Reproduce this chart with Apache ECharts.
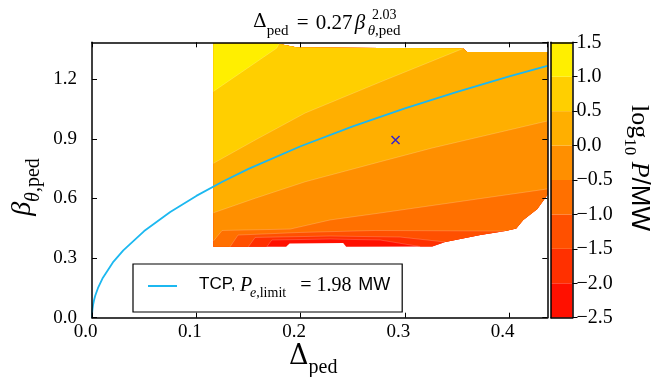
<!DOCTYPE html>
<html><head><meta charset="utf-8">
<script src="https://cdn.jsdelivr.net/npm/echarts@6/dist/echarts.min.js"></script>
<style>html,body{margin:0;padding:0;background:#fff}#c{width:655px;height:377px}</style>
</head><body><div id="c"></div>
<script>
// ---------- data ----------
const xMax = 0.4365, yMax = 1.386;
const levels = [-2.5, -2.0, -1.5, -1.0, -0.5, 0.0, 0.5, 1.0, 1.5];
const bandColors = ['#ff1000','#ff3000','#ff5000','#ff7000','#ff8f00','#ffaf00','#ffcf00','#ffef00'];

// outline of the region where the power was computed
const regionTopX = [0.1164, 0.1775, 0.1966, 0.3559, 0.3597, 0.4365];
const regionTopY = [1.380, 1.380, 1.360, 1.355, 1.337, 1.337];
const regionBottomX = [0.1164, 0.1861, 0.1894, 0.2408, 0.2437, 0.3262, 0.3386, 0.3722, 0.3962, 0.4067, 0.4134, 0.4269, 0.4365];
const regionBottomY = [0.357, 0.357, 0.373, 0.376, 0.357, 0.358, 0.381, 0.416, 0.436, 0.449, 0.492, 0.547, 0.618];

// contour lines (log10 P/MW)
const contourM20X = [0.1676, 0.1724, 0.2283, 0.2763, 0.3146];
const contourM20Y = [0.357, 0.391, 0.396, 0.391, 0.358];
const contourM15X = [0.1499, 0.1564, 0.2283, 0.2954, 0.3386];
const contourM15Y = [0.357, 0.404, 0.411, 0.406, 0.381];
const contourM10X = [0.1324, 0.1400, 0.1995, 0.2715, 0.3962];
const contourM10Y = [0.357, 0.416, 0.429, 0.439, 0.436];
const contourM05X = [0.1164, 0.1247, 0.1899, 0.2283, 0.2763, 0.4365];
const contourM05Y = [0.386, 0.439, 0.446, 0.492, 0.527, 0.648];
const contour00X = [0.1164, 0.1564, 0.2043, 0.2763, 0.3261, 0.4365];
const contour00Y = [0.528, 0.601, 0.684, 0.785, 0.854, 0.990];
const contour05X = [0.1164, 0.1564, 0.2043, 0.2763, 0.3559];
const contour05Y = [0.777, 0.894, 1.030, 1.186, 1.355];
const contour10X = [0.1164, 0.1772, 0.1794];
const contour10Y = [1.139, 1.357, 1.380];

// TCP curve, P_e,limit = 1.98 MW
const tcpDelta = [0, 0.0002, 0.0005, 0.001, 0.002, 0.003, 0.006, 0.01, 0.02, 0.03, 0.05, 0.075, 0.1, 0.125, 0.15, 0.2, 0.25, 0.3, 0.35, 0.4, 0.4365];
const tcpBeta  = [0, 0.029, 0.045, 0.063, 0.089, 0.109, 0.153, 0.197, 0.278, 0.339, 0.436, 0.532, 0.613, 0.684, 0.749, 0.863, 0.963, 1.053, 1.136, 1.214, 1.267];

// operating point
const opDelta = [0.291];
const opBeta = [0.894];

// ---------- build ----------
const contoursX = [contourM20X, contourM15X, contourM10X, contourM05X, contour00X, contour05X, contour10X];
const contoursY = [contourM20Y, contourM15Y, contourM10Y, contourM05Y, contour00Y, contour05Y, contour10Y];
const xLeft = regionTopX[0];

function bandPolygon(k) {
  const pts = [];
  if (k === 0) {
    for (let i = 0; i < regionTopX.length; i++) pts.push([regionTopX[i], regionTopY[i]]);
    for (let i = regionBottomX.length - 1; i >= 0; i--) pts.push([regionBottomX[i], regionBottomY[i]]);
    return pts;
  }
  const bx = contoursX[k - 1], by = contoursY[k - 1];
  const eps = 1e-6;
  if (bx[0] > xLeft + eps) {
    for (let i = 0; i < regionBottomX.length; i++) if (regionBottomX[i] < bx[0]) pts.push([regionBottomX[i], regionBottomY[i]]);
  }
  for (let i = 0; i < bx.length; i++) pts.push([bx[i], by[i]]);
  const lx = bx[bx.length - 1], ly = by[by.length - 1];
  if (lx < xMax - eps && ly < 1.0) {
    for (let i = 0; i < regionBottomX.length; i++) if (regionBottomX[i] > lx) pts.push([regionBottomX[i], regionBottomY[i]]);
    for (let i = regionTopX.length - 1; i >= 0; i--) pts.push([regionTopX[i], regionTopY[i]]);
  } else if (lx < xMax - eps) {
    for (let i = regionTopX.length - 1; i >= 0; i--) if (regionTopX[i] < lx) pts.push([regionTopX[i], regionTopY[i]]);
  } else {
    for (let i = regionTopX.length - 1; i >= 0; i--) pts.push([regionTopX[i], regionTopY[i]]);
  }
  return pts;
}

const serif = "'Liberation Serif', 'DejaVu Serif', serif";
const dserif = "'DejaVu Serif', serif";
const sans = "'Liberation Sans', Arial, sans-serif";
const BLACK = '#000';
const fmt1 = v => v.toFixed(1).replace('-', '\u2212');
const isMult = (v, s) => Math.abs(v / s - Math.round(v / s)) < 1e-6;

const chart = echarts.init(document.getElementById('c'), null, {renderer: 'canvas'});

const axisCommon = {
  type: 'value', z: 5,
  axisLine: {show: true, onZero: false, lineStyle: {color: BLACK, width: 1.5}},
  splitLine: {show: false}
};

chart.setOption({
  animation: false,
  backgroundColor: '#fff',
  grid: [
    {left: 92, top: 42.3, width: 455.3, height: 275.4},
    {left: 551, top: 42.3, width: 21.5, height: 275.4}
  ],
  xAxis: [
    Object.assign({}, axisCommon, {gridIndex: 0, min: 0, max: xMax, interval: 0.1, position: 'bottom',
      axisTick: {inside: true, length: 5, lineStyle: {color: BLACK, width: 1}},
      axisLabel: {color: BLACK, fontFamily: serif, fontSize: 19, margin: 5, padding: [0, 13, 0, 0], showMaxLabel: false,
        formatter: v => isMult(v, 0.1) ? fmt1(v) : ''}}),
    Object.assign({}, axisCommon, {gridIndex: 0, min: 0, max: xMax, interval: 0.1, position: 'top',
      axisTick: {inside: true, length: 5, lineStyle: {color: BLACK, width: 1}}, axisLabel: {show: false}}),
    Object.assign({}, axisCommon, {gridIndex: 1, min: 0, max: 1, position: 'bottom', axisTick: {show: false}, axisLabel: {show: false}}),
    Object.assign({}, axisCommon, {gridIndex: 1, min: 0, max: 1, position: 'top', axisTick: {show: false}, axisLabel: {show: false}})
  ],
  yAxis: [
    Object.assign({}, axisCommon, {gridIndex: 0, min: 0, max: yMax, interval: 0.3, position: 'left',
      axisTick: {inside: true, length: 5, lineStyle: {color: BLACK, width: 1}},
      axisLabel: {color: BLACK, fontFamily: serif, fontSize: 19, margin: 15, showMaxLabel: false,
        formatter: v => isMult(v, 0.3) ? fmt1(v) : ''}}),
    Object.assign({}, axisCommon, {gridIndex: 0, min: 0, max: yMax, interval: 0.3, position: 'right',
      axisTick: {inside: true, length: 5, lineStyle: {color: BLACK, width: 1}}, axisLabel: {show: false}}),
    Object.assign({}, axisCommon, {gridIndex: 1, min: levels[0], max: levels[levels.length - 1], interval: 0.5, position: 'right',
      axisTick: {inside: false, length: 5, lineStyle: {color: BLACK, width: 1}},
      axisLabel: {color: BLACK, fontFamily: serif, fontSize: 20, margin: 4, formatter: v => fmt1(v)}}),
    Object.assign({}, axisCommon, {gridIndex: 1, min: levels[0], max: levels[levels.length - 1], position: 'left',
      axisTick: {show: false}, axisLabel: {show: false}})
  ],
  legend: {
    data: ['TCP'], left: 133, top: 264,
    padding: [12, 12, 12, 15],
    borderColor: BLACK, borderWidth: 1.2, borderRadius: 0, backgroundColor: '#fff',
    icon: 'rect', itemWidth: 29, itemHeight: 2,
    formatter: () => '{g|}{a|TCP,}{p|P}{si|e}{s|,limit}{b|= 1.98}{m|MW}',
    textStyle: {
      color: BLACK,
      rich: {
        g: {width: 17},
        a: {fontFamily: sans, fontSize: 17, lineHeight: 20, verticalAlign: 'top', width: 41, color: BLACK},
        m: {fontFamily: sans, fontSize: 18, lineHeight: 20, verticalAlign: 'top', color: BLACK},
        p: {fontFamily: serif, fontStyle: 'italic', fontSize: 20, lineHeight: 20, verticalAlign: 'top', width: 10, color: BLACK},
        si: {fontFamily: serif, fontStyle: 'italic', fontSize: 14, lineHeight: 13, padding: [10, 0, 0, 0], verticalAlign: 'top', color: BLACK},
        s: {fontFamily: serif, fontSize: 14, lineHeight: 13, padding: [10, 0, 0, 0], verticalAlign: 'top', width: 44, color: BLACK},
        b: {fontFamily: serif, fontSize: 20, lineHeight: 20, verticalAlign: 'top', width: 58, color: BLACK}
      }
    }
  },
  graphic: [
    {type: 'text', left: 253, top: 13, z: 10, style: {
      text: '{d|Δ}{s|ped}{e|=}{n|0.27}{b|β}{st|θ}{s2|,ped}',
      rich: {
        d: {fontFamily: dserif, fontSize: 19, lineHeight: 22, verticalAlign: 'top', fill: BLACK},
        e: {fontFamily: serif, fontSize: 21, lineHeight: 22, verticalAlign: 'top', width: 19, fill: BLACK},
        n: {fontFamily: serif, fontSize: 21, lineHeight: 22, verticalAlign: 'top', width: 39, fill: BLACK},
        b: {fontFamily: serif, fontStyle: 'italic', fontSize: 21, lineHeight: 22, verticalAlign: 'top', width: 13, fill: BLACK},
        s: {fontFamily: serif, fontSize: 15, lineHeight: 14, padding: [11, 0, 0, 0], verticalAlign: 'top', width: 30, fill: BLACK},
        st: {fontFamily: serif, fontStyle: 'italic', fontSize: 15, lineHeight: 14, padding: [11, 0, 0, 0], verticalAlign: 'top', fill: BLACK},
        s2: {fontFamily: serif, fontSize: 15, lineHeight: 14, padding: [11, 0, 0, 0], verticalAlign: 'top', fill: BLACK}
      }}},
    {type: 'text', left: 372, top: 8, z: 10, style: {text: '2.03', font: "14px 'Liberation Serif'", fill: BLACK}},
    {type: 'text', x: 289, y: 357, z: 10, style: {
      text: '{d|Δ}{s|ped}', align: 'left', verticalAlign: 'middle',
      rich: {
        d: {fontFamily: dserif, fontSize: 27, lineHeight: 28, verticalAlign: 'top', fill: BLACK},
        s: {fontFamily: serif, fontSize: 20, lineHeight: 19, padding: [15, 0, 0, 0], verticalAlign: 'top', fill: BLACK}
      }}},
    {type: 'text', x: 23, y: 187, rotation: Math.PI / 2, z: 10, style: {
      text: '{b|β}{st|θ}{s|,ped}', align: 'center', verticalAlign: 'middle',
      rich: {
        b: {fontFamily: serif, fontStyle: 'italic', fontSize: 28, lineHeight: 28, verticalAlign: 'top', fill: BLACK},
        st: {fontFamily: serif, fontStyle: 'italic', fontSize: 20, lineHeight: 19, padding: [15, 0, 0, 0], verticalAlign: 'top', fill: BLACK},
        s: {fontFamily: serif, fontSize: 20, lineHeight: 19, padding: [15, 0, 0, 0], verticalAlign: 'top', fill: BLACK}
      }}},
    {type: 'text', x: 639, y: 168, rotation: -Math.PI / 2, z: 10, style: {
      text: '{l|log}{s|10}{p| P}{m|/MW}', align: 'center', verticalAlign: 'middle',
      rich: {
        l: {fontFamily: serif, fontSize: 26, lineHeight: 26, verticalAlign: 'top', fill: BLACK},
        p: {fontFamily: serif, fontStyle: 'italic', fontSize: 26, lineHeight: 26, verticalAlign: 'top', fill: BLACK},
        m: {fontFamily: sans, fontSize: 26, lineHeight: 26, verticalAlign: 'top', fill: BLACK},
        s: {fontFamily: serif, fontSize: 17, lineHeight: 16, padding: [14, 0, 0, 0], verticalAlign: 'top', fill: BLACK}
      }}}
  ],
  series: [
    {
      type: 'custom', name: 'contours', xAxisIndex: 0, yAxisIndex: 0, z: 1, silent: true,
      data: bandColors.map((c, i) => [i]),
      renderItem: (params, api) => {
        const k = api.value(0);
        const poly = bandPolygon(k).map(p => api.coord(p));
        const children = [{type: 'polygon', shape: {points: poly}, style: {fill: bandColors[k], stroke: null}}];
        if (k > 0) {
          const bx = contoursX[k - 1], by = contoursY[k - 1];
          const line = bx.map((x, i) => api.coord([x, by[i]]));
          children.push({type: 'polyline', shape: {points: line}, style: {stroke: 'rgba(255,255,255,0.28)', lineWidth: 0.7, fill: null}});
        }
        return {type: 'group', children};
      }
    },
    {
      type: 'line', name: 'TCP', xAxisIndex: 0, yAxisIndex: 0, z: 3,
      data: tcpDelta.map((d, i) => [d, tcpBeta[i]]),
      showSymbol: false, smooth: false,
      lineStyle: {color: '#1cb8f0', width: 1.8}, itemStyle: {color: '#1cb8f0'}
    },
    {
      type: 'scatter', name: 'op', xAxisIndex: 0, yAxisIndex: 0, z: 4,
      data: opDelta.map((d, i) => [d, opBeta[i]]),
      symbol: 'path://M0 0L10 10M10 0L0 10', symbolSize: 8,
      itemStyle: {color: 'none', borderColor: '#0000ff', borderWidth: 1.5}
    },
    {
      type: 'custom', name: 'colorbar', xAxisIndex: 2, yAxisIndex: 2, z: 1, silent: true,
      data: bandColors.map((c, i) => [i]),
      renderItem: (params, api) => {
        const k = api.value(0);
        const p0 = api.coord([0, levels[k]]);
        const p1 = api.coord([1, levels[k + 1]]);
        return {type: 'rect', shape: {x: p0[0], y: p1[1], width: p1[0] - p0[0], height: p0[1] - p1[1]},
          style: {fill: bandColors[k]}};
      }
    }
  ]
});
</script>
</body></html>
